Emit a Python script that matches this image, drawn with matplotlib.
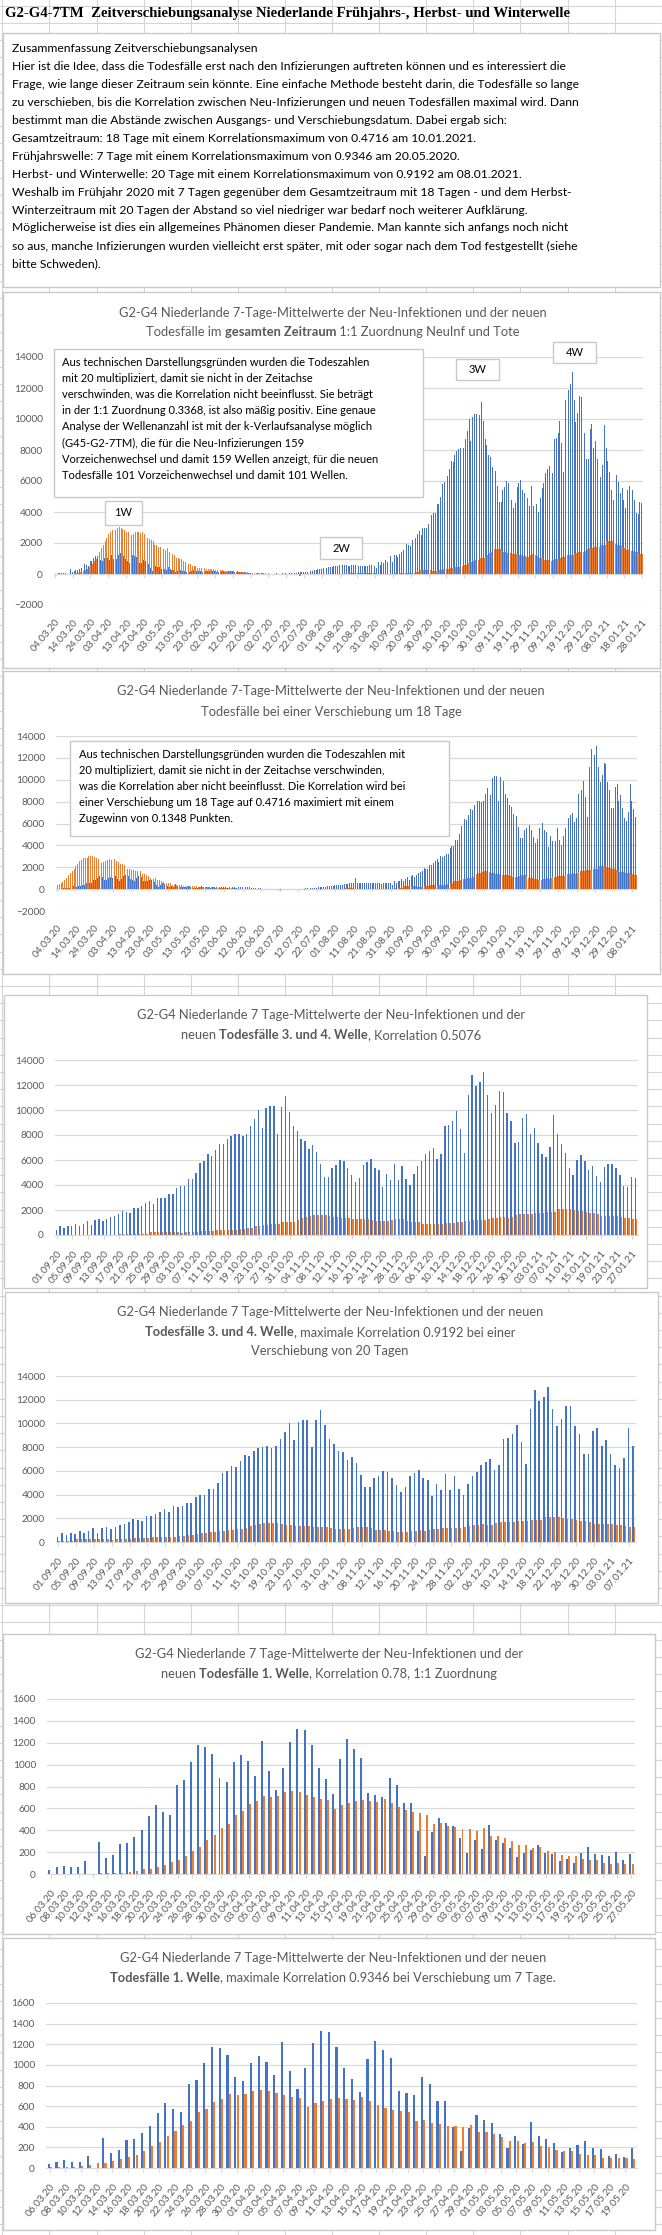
import numpy as np
import pandas as pd
import matplotlib
matplotlib.use("Agg")
import matplotlib.pyplot as plt
from matplotlib.patches import Rectangle
from matplotlib.lines import Line2D

# ---------------- data ----------------
# Neu-Infektionen, 04.03.20 - 27.05.20
neuinf_fruehjahr = [20, 30,
    40, 60, 75, 60, 60, 120, 0, 295, 150, 175, 275, 285, 340, 405, 530, 630, 570, 540,
    810, 855, 1020, 1175, 1160, 1100, 880, 845,
    1020, 1085, 1030, 900, 1220, 945, 770, 965, 1210, 1330, 1315, 1175, 965, 865, 735,
    1055, 1230, 1140, 1065, 745, 725, 705, 880, 810, 650, 650, 395, 165, 385, 515,
    465, 440, 330, 195, 315, 230, 450, 315, 285, 240, 160, 195, 220, 265, 195, 185,
    120, 140, 105, 195, 250, 185, 175, 165, 205, 130, 185]
# Neu-Infektionen, 28.05.20 - 31.08.20
neuinf_sommer = [180, 200, 170, 150,
    200, 180, 150, 120, 230, 180, 200, 160, 140, 170, 180, 200, 130, 160, 180, 150,
    120, 110, 100, 90, 80, 60, 40, 30, 30, 40, 30, 30, 40, 30,
    30, 40, 30, 30, 20, 30, 40, 30, 30, 40, 50, 40, 30, 40, 50, 60,
    80, 90, 100, 110, 120, 130, 150, 160, 180, 200, 220, 250, 280, 300, 330,
    350, 370, 380, 400, 420, 450, 480, 500, 520, 540, 560, 1050, 600, 580, 560, 540,
    520, 550, 560, 580, 550, 520, 530, 540, 520, 500, 520, 550, 580, 560, 520]
# Neu-Infektionen, 01.09.20 - 28.01.21
neuinf_herbst = [400, 750, 600, 750, 700, 900, 750, 900, 1150, 800, 1200, 1250, 1100, 1300,
    1450, 1550, 1700, 1950, 1850, 1800, 2200, 2200, 2350, 2550, 2750, 2500, 3000, 2950,
    3000, 3250, 3250, 3800, 3950, 3950, 4500, 4500, 5000, 5800, 5950, 6450, 6350, 6800,
    7300, 7250, 7700, 7950, 8050, 8100, 7950, 8100, 8700, 9250, 10000, 8600, 10150, 10300,
    10300, 8050, 10250, 11100, 9850, 8700, 8300, 7700, 7550, 6900, 7200, 6650, 5650, 4650,
    4650, 5400, 5600, 6000, 5900, 5400, 4800, 4250, 4600, 5600, 5850, 6050, 5400, 5200,
    3850, 4900, 4400, 5700, 4400, 5550, 4500, 4000, 4900, 5550, 5900, 6500, 6750, 7000,
    6100, 6500, 8700, 8800, 9100, 9900, 8450, 6600, 11200, 12800, 11900, 12250, 13050,
    11200, 9800, 10400, 11500, 11450, 9800, 9100, 7400, 7450, 9350, 9650, 8100, 8600, 7400,
    6500, 6250, 7050, 9600, 8100, 7300, 6600, 5400, 4800, 6000, 6400, 5950, 5200, 5550,
    4750, 4250, 5450, 5700, 5700, 5400, 4800, 3950, 3850, 4650, 4600]

# Todesfaelle 1. Welle (Skala der Welle-1-Diagramme), 04.03.20 - 27.05.20
tote_fruehjahr = [0, 0,
    0, 0, 0, 0, 0, 2, 3, 5, 5, 10, 12, 20, 30, 45, 50, 65, 85, 110, 130, 165, 210, 250,
    315, 360, 420, 460,
    540, 575, 640, 670, 715, 705, 715, 750, 760, 750, 725, 705, 685, 680, 595, 630, 650,
    670, 680, 670, 660, 685, 650, 615, 585, 565, 555, 540, 460, 465,
    440, 430, 410, 410, 395, 420, 350, 345, 330, 300, 265, 265, 240, 250, 210, 200, 175,
    165, 165, 135, 130, 130, 100, 95, 100, 95, 90]
SKALA_GESAMT = 4  # Gesamtdiagramme: Todeszahlen x20 statt x5
# Todesfaelle x20, 28.05.20 - 31.08.20
tote20_sommer = [350, 330, 320, 300,
    300, 290, 280, 260, 250, 240, 220, 210, 200, 190, 180, 170, 160, 150, 140, 130,
    120, 110, 100, 100, 90, 80, 80, 70, 60, 60, 50, 50, 50, 40,
    40, 40, 30, 30, 30, 20, 20, 20, 20, 20, 20, 20, 20, 20, 20, 20, 20, 20, -100, -100,
    20, 20, 20, 20, 20, 20, 20, 20, 30, 30, 30,
    20, -100, 20, 20, 20, 20, 20, 20, 20, 20, -50, 20, 30, 30, 30, 40, 40, 40, 40, 40,
    50, 50, 50, 60, 60, 60, 60, 60, 50, 50, 50]
# Todesfaelle x20, 01.09.20 - 28.01.21
tote20_herbst = [30, 30, 20, 30, 30, 30, 20, 30, 30, 30, 40, 30, 30, 40, 40, 40, 50, 50,
    50, 60, 60, 80, 100, 120,
    280, 280, 280, 270, 280, 280, 260, 220, 200, 220, 240, 280, 270, 330, 340, 350, 350,
    380, 400, 420, 420, 420, 420, 470, 500, 560, 600, 700, 750, 780, 820, 880, 900, 920,
    1050, 1050, 1060, 1080, 1200, 1350, 1450, 1500, 1600, 1620, 1620, 1620, 1550, 1450,
    1450, 1350, 1380, 1380, 1320, 1300, 1300, 1280, 1250, 1200, 1130, 1130, 1120, 1120,
    1200, 1280, 1300, 1250, 1150, 1050, 1050, 1020, 900, 900, 880, 880, 870, 900, 950,
    1000, 950, 1050, 1080, 1100, 1150, 1220, 1200, 1200, 1200, 1300, 1350, 1400, 1420,
    1480, 1400, 1460, 1600, 1650, 1700, 1700, 1720, 1730, 1780, 1750, 1850, 1880, 1850,
    2100, 2100, 2120, 2100, 2000, 1950, 1900, 1850, 1800, 1750, 1650, 1550, 1550, 1550,
    1500, 1500, 1450, 1400, 1380, 1300, 1300]

datum = pd.date_range("2020-03-04", "2021-01-28", freq="D").strftime("%d.%m.%y")

neuinf = np.array(neuinf_fruehjahr + neuinf_sommer + neuinf_herbst, dtype=float)
tote20 = np.array([v * SKALA_GESAMT for v in tote_fruehjahr] + tote20_sommer + tote20_herbst, dtype=float)
tote_w1 = np.array(tote_fruehjahr, dtype=float)
i_sep = len(neuinf_fruehjahr) + len(neuinf_sommer)

# ---------------- style ----------------
BLAU = "#4472C4"
ORANGE = "#ED7D31"
GRID = "#D9D9D9"
TXT = "#595959"
plt.rcParams['font.family'] = ['Lato', 'DejaVu Sans']

W, H = 662, 2235
fig = plt.figure(figsize=(W / 100, H / 100), dpi=100)
fig.patch.set_facecolor("white")


def fx(x):
    return x / W


def fy(y):
    return 1 - y / H


def box(x0, y0, x1, y1, z=-1, ec="#C8C8C8", lw=1.0):
    r = Rectangle((fx(x0), fy(y1)), fx(x1) - fx(x0), fy(y0) - fy(y1), transform=fig.transFigure,
                  facecolor="white", edgecolor=ec, linewidth=lw, zorder=z)
    fig.add_artist(r)


# spreadsheet grid in the background
for x in np.arange(2.3, W, 47.1):
    fig.add_artist(Line2D([fx(x), fx(x)], [0, 1], color="#D4D4D4", lw=0.8, zorder=-3))
for y in np.arange(5.5, H, 17.2):
    fig.add_artist(Line2D([0, 1], [fy(y), fy(y)], color="#D4D4D4", lw=0.8, zorder=-3))

# sheet title
fig.text(fx(5), fy(14), "G2-G4-7TM  Zeitverschiebungsanalyse Niederlande Frühjahrs-, Herbst- und Winterwelle",
         family="Liberation Serif", weight="bold", fontsize=10.6, va="center", ha="left", color="black")

# summary text box
box(3, 33, 660, 287)
summary = [
    "Zusammenfassung Zeitverschiebungsanalysen",
    "Hier ist die Idee, dass die Todesfälle erst nach den Infizierungen auftreten können und es interessiert die",
    "Frage, wie lange dieser Zeitraum sein könnte. Eine einfache Methode besteht darin, die Todesfälle so lange",
    "zu verschieben, bis die Korrelation zwischen Neu-Infizierungen und neuen Todesfällen maximal wird. Dann",
    "bestimmt man die Abstände zwischen Ausgangs- und Verschiebungsdatum. Dabei ergab sich:",
    "Gesamtzeitraum: 18 Tage mit einem Korrelationsmaximum von 0.4716 am 10.01.2021.",
    "Frühjahrswelle: 7 Tage mit einem Korrelationsmaximum von 0.9346 am 20.05.2020.",
    "Herbst- und Winterwelle: 20 Tage mit einem Korrelationsmaximum von 0.9192 am 08.01.2021.",
    "Weshalb im Frühjahr 2020 mit 7 Tagen gegenüber dem Gesamtzeitraum mit 18 Tagen - und dem Herbst-",
    "Winterzeitraum mit 20 Tagen der Abstand so viel niedriger war bedarf noch weiterer Aufklärung.",
    "Möglicherweise ist dies ein allgemeines Phänomen dieser Pandemie. Man kannte sich anfangs noch nicht",
    "so aus, manche Infizierungen wurden vielleicht erst später, mit oder sogar nach dem Tod festgestellt (siehe",
    "bitte Schweden).",
]
for k, line in enumerate(summary):
    fig.text(fx(12), fy(48 + 18 * k), line, fontsize=8.7, va="center", ha="left", color="black")

renderer = fig.canvas.get_renderer()


def title_line(cx, y, parts, size=9.3):
    texts, widths = [], []
    for s, w in parts:
        t = fig.text(0, 0, s, fontsize=size, weight=w, color=TXT, va="center", ha="left")
        texts.append(t)
        widths.append(t.get_window_extent(renderer=renderer).width)
    x = cx - sum(widths) / 2
    for t, w in zip(texts, widths):
        t.set_position((fx(x), fy(y)))
        x += w


def chart(rect, blue, orange, labels, step, ylim, ystep, bw, off, zero_line=False):
    x0, y0, x1, y1 = rect
    ax = fig.add_axes([fx(x0), fy(y1), fx(x1) - fx(x0), fy(y0) - fy(y1)])
    ax.set_facecolor("none")
    n = len(blue)
    x = np.arange(n)
    ax.bar(x - off, blue, width=bw, color=BLAU, linewidth=0, zorder=2, antialiased=False)
    ax.bar(x + off, orange, width=bw, color=ORANGE, linewidth=0, zorder=3, antialiased=False)
    ax.set_xlim(-0.5, n - 0.5)
    ax.set_ylim(*ylim)
    ax.set_yticks(np.arange(ylim[0], ylim[1] + 1, ystep))
    ax.yaxis.grid(True, color=GRID, lw=0.9)
    ax.set_axisbelow(True)
    for s in ax.spines.values():
        s.set_visible(False)
    if zero_line:
        ax.axhline(0, color=GRID, lw=0.9, zorder=1)
        for t in range(0, n, step):
            ax.plot([t, t], [0, -(ylim[1] - ylim[0]) * 0.012], color=GRID, lw=0.9, zorder=1,
                    clip_on=False)
    else:
        ax.spines["bottom"].set_visible(True)
        ax.spines["bottom"].set_color(GRID)
    ticks = list(range(0, n, step))
    ax.set_xticks(ticks)
    ax.set_xticklabels([labels[t] for t in ticks], rotation=50, ha="right", va="top",
                       rotation_mode="anchor")
    ax.tick_params(axis="x", length=3 if not zero_line else 0, color=GRID, pad=7 if not zero_line else 9,
                   labelsize=7.3, labelcolor=TXT)
    ax.tick_params(axis="y", length=0, pad=8, labelsize=7.3, labelcolor=TXT)
    return ax


# ---- chart 1: gesamter Zeitraum, 1:1
box(3, 292, 660, 668)
title_line(333, 313, [("G2-G4 Niederlande 7-Tage-Mittelwerte der Neu-Infektionen und der neuen", "normal")])
title_line(333, 332, [("Todesfälle im ", "normal"), ("gesamten Zeitraum", "bold"),
                      (" 1:1 Zuordnung NeuInf und Tote", "normal")])
ax1 = chart((54, 357, 643, 605), neuinf, tote20, datum, 10, (-2000, 14000), 2000, 0.5, 0.22, True)

box(54, 349, 423, 497, z=5)
txt1 = [
    "Aus technischen Darstellungsgründen wurden die Todeszahlen",
    "mit 20 multipliziert, damit sie nicht in der Zeitachse",
    "verschwinden, was die Korrelation nicht beeinflusst. Sie beträgt",
    "in der 1:1 Zuordnung 0.3368, ist also mäßig positiv. Eine genaue",
    "Analyse der Wellenanzahl ist mit der k-Verlaufsanalyse möglich",
    "(G45-G2-7TM), die für die Neu-Infizierungen 159",
    "Vorzeichenwechsel und damit 159 Wellen anzeigt, für die neuen",
    "Todesfälle 101 Vorzeichenwechsel und damit 101 Wellen.",
]
for k, line in enumerate(txt1):
    fig.text(fx(62), fy(362 + 16.2 * k), line, fontsize=8.0, va="center", ha="left", color="black", zorder=6)

for lab, (bx0, by0, bx1, by1) in [("1W", (105, 501, 142, 525)), ("2W", (320, 537, 362, 559)),
                                  ("3W", (456, 359, 499, 380)), ("4W", (553, 342, 596, 363))]:
    box(bx0, by0, bx1, by1, z=5)
    fig.text(fx((bx0 + bx1) / 2), fy((by0 + by1) / 2), lab, fontsize=8.0, ha="center", va="center",
             color="black", zorder=6)

# ---- chart 2: Verschiebung 18 Tage
box(3, 671, 660, 974)
title_line(331, 691, [("G2-G4 Niederlande 7-Tage-Mittelwerte der Neu-Infektionen und der neuen", "normal")])
title_line(331, 712, [("Todesfälle bei einer Verschiebung um 18 Tage", "normal")])
n2 = len(neuinf) - 18
ax2 = chart((56, 736, 637, 911), neuinf[:n2], tote20[18:], datum[:n2], 10, (-2000, 14000), 2000,
            0.5, 0.22, True)
box(70, 741, 449, 836, z=5)
txt2 = [
    "Aus technischen Darstellungsgründen wurden die Todeszahlen mit",
    "20 multipliziert, damit sie nicht in der Zeitachse verschwinden,",
    "was die Korrelation aber nicht beeinflusst. Die Korrelation wird bei",
    "einer Verschiebung um 18 Tage auf 0.4716 maximiert mit einem",
    "Zugewinn von 0.1348 Punkten.",
]
for k, line in enumerate(txt2):
    fig.text(fx(79), fy(754 + 16.2 * k), line, fontsize=8.0, va="center", ha="left", color="black", zorder=6)

# ---- chart 3: 3. und 4. Welle, 1:1
box(4, 995, 647, 1288)
title_line(331, 1015, [("G2-G4 Niederlande 7 Tage-Mittelwerte der Neu-Infektionen und der", "normal")])
title_line(331, 1035, [("neuen ", "normal"), ("Todesfälle 3. und 4. Welle", "bold"),
                       (", Korrelation 0.5076", "normal")])
ax3 = chart((55, 1060, 638, 1235), neuinf[i_sep:], tote20[i_sep:], datum[i_sep:], 4, (0, 14000), 2000,
            0.36, 0.18)

# ---- chart 4: 3. und 4. Welle, Verschiebung 20 Tage
box(5, 1292, 658, 1603)
title_line(330, 1312, [("G2-G4 Niederlande 7 Tage-Mittelwerte der Neu-Infektionen und der neuen", "normal")])
title_line(330, 1332, [("Todesfälle 3. und 4. Welle", "bold"),
                       (", maximale Korrelation 0.9192 bei einer", "normal")])
title_line(330, 1351, [("Verschiebung von 20 Tagen", "normal")])
n4 = len(neuinf) - i_sep - 20
ax4 = chart((56, 1376, 636, 1542), neuinf[i_sep:i_sep + n4], tote20[i_sep + 20:], datum[i_sep:],
            4, (0, 14000), 2000, 0.36, 0.18)

# ---- chart 5: 1. Welle, 1:1
i_w1 = 2  # 06.03.20
box(3, 1634, 655, 1934)
title_line(329, 1654, [("G2-G4 Niederlande 7 Tage-Mittelwerte der Neu-Infektionen und der", "normal")])
title_line(329, 1674, [("neuen ", "normal"), ("Todesfälle 1. Welle", "bold"),
                       (", Korrelation 0.78, 1:1 Zuordnung", "normal")])
ax5 = chart((47, 1699, 635, 1874), neuinf[i_w1:len(neuinf_fruehjahr)], tote_w1[i_w1:], datum[i_w1:],
            2, (0, 1600), 200, 0.28, 0.15)

# ---- chart 6: 1. Welle, Verschiebung 7 Tage
box(3, 1938, 655, 2230)
title_line(333, 1958, [("G2-G4 Niederlande 7 Tage-Mittelwerte der Neu-Infektionen und der neuen", "normal")])
title_line(333, 1978, [("Todesfälle 1. Welle", "bold"),
                       (", maximale Korrelation 0.9346 bei Verschiebung um 7 Tage.", "normal")])
n6 = len(neuinf_fruehjahr) - i_w1 - 7
ax6 = chart((46, 2003, 637, 2168), neuinf[i_w1:i_w1 + n6], tote_w1[i_w1 + 7:], datum[i_w1:],
            2, (0, 1600), 200, 0.28, 0.15)

fig.savefig("out.png", dpi=100)
